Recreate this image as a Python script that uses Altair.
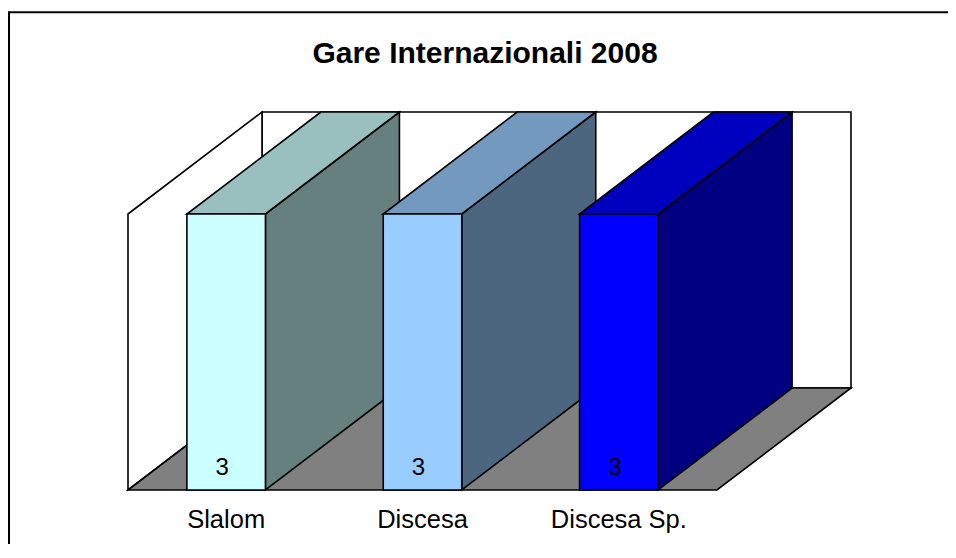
import altair as alt
import pandas as pd

# ---- data ----
categories = ["Slalom", "Discesa", "Discesa Sp."]
values = [3, 3, 3]
title_text = "Gare Internazionali 2008"

# ---- styles ----
front_colors = ["#CCFFFF", "#99CCFF", "#0000FF"]
top_colors = ["#99BFBF", "#7399BF", "#0000BF"]
side_colors = ["#668080", "#4D6680", "#000080"]
FLOOR = "#808080"
FONT = "Liberation Sans"
SW = 1.6

# ---- 3D layout (in data units) ----
AXIS_MAX = 3
N = len(categories)
DX = 0.6825      # depth offset in category units
DY = 1.1087      # depth offset in value units
BAR_FRAC = 0.4   # gap width 150%

W, H = 940, 536
xs = alt.Scale(domain=[-0.6112, 4.1766], nice=False, zero=False)
ys = alt.Scale(domain=[-0.587, 5.2391], nice=False, zero=False)


def X(f="x"):
    return alt.X(f"{f}:Q", scale=xs, axis=None)


def Y(f="y"):
    return alt.Y(f"{f}:Q", scale=ys, axis=None)


def vpar(xa, ya, ya2, xb, yb, yb2, fill):
    df = pd.DataFrame({"x": [xa, xb], "y": [ya2, yb2], "y2": [ya, yb]})
    return alt.Chart(df).mark_area(orient="vertical", fill=fill, stroke="black",
                                   strokeWidth=SW, opacity=1, strokeJoin="miter").encode(
        x=X(), y=Y(), y2="y2:Q")


def hpar(ya, xa, xa2, yb, xb, xb2, fill):
    df = pd.DataFrame({"y": [ya, yb], "x": [xa, xb], "x2": [xa2, xb2]})
    return alt.Chart(df).mark_area(orient="horizontal", fill=fill, stroke="black",
                                   strokeWidth=SW, opacity=1, strokeJoin="miter").encode(
        y=Y(), x=X(), x2="x2:Q")


def rect(x0, x1, y0, y1, fill):
    df = pd.DataFrame({"x": [x0], "x2": [x1], "y": [y0], "y2": [y1]})
    return alt.Chart(df).mark_rect(fill=fill, stroke="black", strokeWidth=SW, opacity=1).encode(
        x=X(), x2="x2:Q", y=Y(), y2="y2:Q")


layers = []

# outer frame (only top and left edges fall inside the picture)
one = pd.DataFrame({"a": [0]})
layers.append(alt.Chart(one).mark_rule(color="black", strokeWidth=2).encode(
    x=alt.value(1), y=alt.value(4.3), y2=alt.value(H)))
layers.append(alt.Chart(one).mark_rule(color="black", strokeWidth=2).encode(
    x=alt.value(0), x2=alt.value(W), y=alt.value(4.3)))

# back wall
layers.append(rect(DX, N + DX, DY, AXIS_MAX + DY, "white"))
# left wall
layers.append(vpar(0, 0, AXIS_MAX, DX, DY, AXIS_MAX + DY, "white"))
# floor
layers.append(hpar(0, 0, N, DY, DX, N + DX, FLOOR))

# bars
for i, v in enumerate(values):
    left = i + (1 - BAR_FRAC) / 2
    right = left + BAR_FRAC
    layers.append(vpar(right, 0, v, right + DX, DY, v + DY, side_colors[i]))
    layers.append(hpar(v, left, right, v + DY, left + DX, right + DX, top_colors[i]))
    layers.append(rect(left, right, 0, v, front_colors[i]))

lab = pd.DataFrame({"cat": categories, "val": values,
                    "xc": [i + 0.5 for i in range(N)]})

# value labels
layers.append(alt.Chart(lab).mark_text(font=FONT, fontSize=24, color="black",
                                       baseline="alphabetic", align="center", dx=-4).encode(
    x=X("xc"), y=alt.value(467), text="val:Q"))

# category labels
layers.append(alt.Chart(lab).mark_text(font=FONT, fontSize=25.5, color="black",
                                       baseline="alphabetic", align="center").encode(
    x=X("xc"), y=alt.value(520), text="cat:N"))

# title
layers.append(alt.Chart(pd.DataFrame({"t": [title_text]})).mark_text(
    font=FONT, fontSize=30, fontWeight="bold", color="black",
    baseline="alphabetic", align="center").encode(
    x=alt.value(477), y=alt.value(55), text="t:N"))

chart = alt.layer(*layers).properties(
    width=W, height=H, padding=0, autosize="none"
).configure_view(stroke=None)

chart.save("out.html", embed_options={"renderer": "svg", "actions": False})
